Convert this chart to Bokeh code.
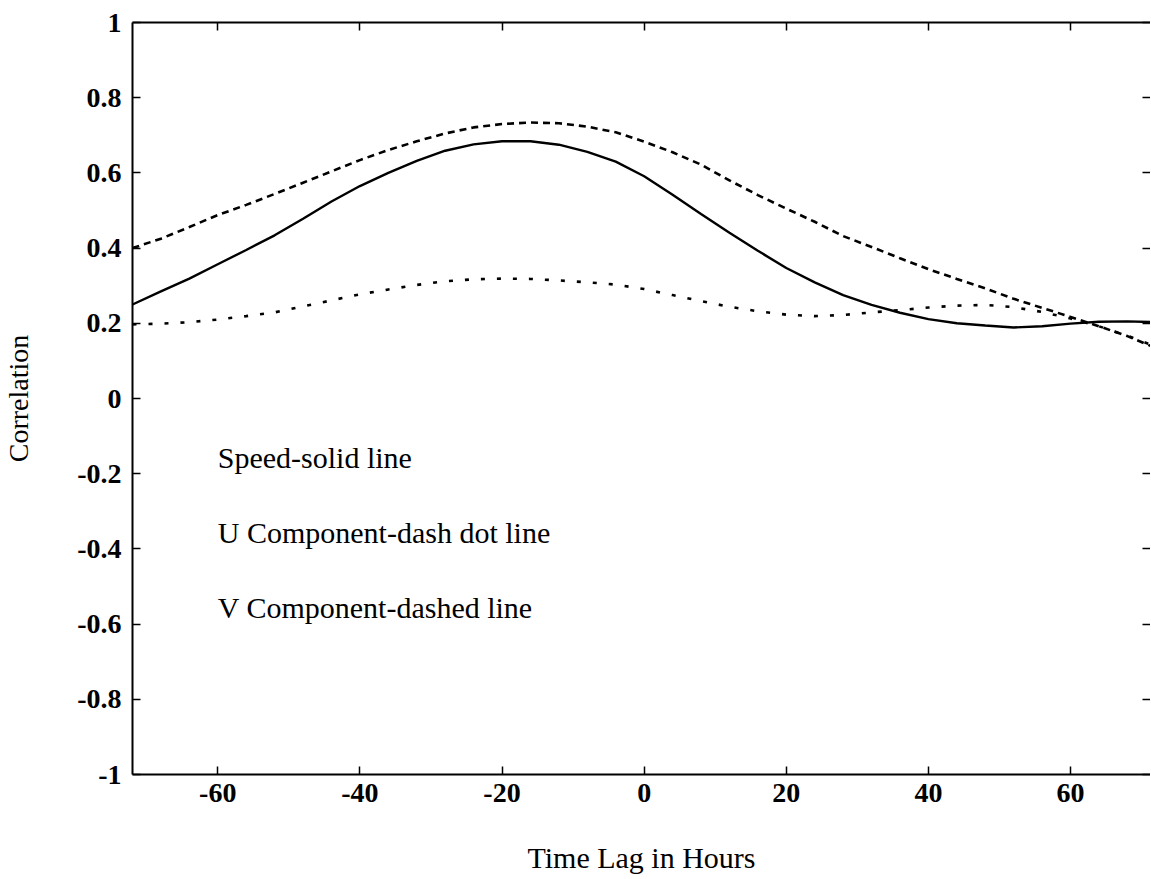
from bokeh.plotting import figure
from bokeh.models import Range1d, FixedTicker, LinearAxis
from bokeh.core.properties import value
from bokeh.embed import file_html
from bokeh.resources import INLINE

# ---- data ----
lag_hours = [-72, -68, -64, -60, -56, -52, -48, -44, -40, -36, -32, -28, -24, -20, -16, -12, -8, -4,
             0, 4, 8, 12, 16, 20, 24, 28, 32, 36, 40, 44, 48, 52, 56, 60, 64, 68, 72]

speed_corr = [0.250, 0.285, 0.319, 0.357, 0.395, 0.434, 0.478, 0.524, 0.565, 0.600, 0.632, 0.659,
              0.676, 0.684, 0.684, 0.675, 0.656, 0.630, 0.591, 0.542, 0.491, 0.441, 0.393, 0.347,
              0.309, 0.275, 0.249, 0.228, 0.211, 0.200, 0.194, 0.189, 0.192, 0.199, 0.204, 0.205, 0.203]

v_comp_corr = [0.400, 0.425, 0.456, 0.488, 0.515, 0.544, 0.574, 0.604, 0.634, 0.661, 0.684, 0.705,
               0.721, 0.730, 0.734, 0.732, 0.723, 0.708, 0.683, 0.655, 0.622, 0.580, 0.541, 0.505,
               0.470, 0.432, 0.403, 0.373, 0.344, 0.318, 0.293, 0.265, 0.241, 0.217, 0.192, 0.166, 0.134]

u_comp_corr = [0.197, 0.199, 0.203, 0.210, 0.219, 0.229, 0.245, 0.261, 0.277, 0.290, 0.302, 0.312,
               0.317, 0.319, 0.318, 0.314, 0.309, 0.303, 0.291, 0.275, 0.259, 0.244, 0.232, 0.223,
               0.219, 0.222, 0.229, 0.235, 0.242, 0.247, 0.249, 0.243, 0.230, 0.213, 0.192, 0.167, 0.138]

x_ticks = [-60, -40, -20, 0, 20, 40, 60]
x_tick_labels = ["-60", "-40", "-20", "0", "20", "40", "60"]
y_ticks = [-1, -0.8, -0.6, -0.4, -0.2, 0, 0.2, 0.4, 0.6, 0.8, 1]
y_tick_labels = ["-1", "-0.8", "-0.6", "-0.4", "-0.2", "0", "0.2", "0.4", "0.6", "0.8", "1"]

note_texts = ["Speed-solid line", "U Component-dash dot line", "V Component-dashed line"]
note_x = [-60, -60, -60]
note_y = [-0.157, -0.357, -0.557]

x_title = "Time Lag in Hours"
y_title = "Correlation"

FONT = "Liberation Serif"

p = figure(width=1150, height=878, output_backend="svg", toolbar_location=None,
           x_range=Range1d(-72, 71.25), y_range=Range1d(-1, 1),
           min_border_left=128, min_border_right=0, min_border_top=22, min_border_bottom=104,
           x_axis_label=x_title, y_axis_label=y_title)
p.outline_line_color = None
p.grid.visible = False
p.background_fill_color = "white"
p.border_fill_color = "white"

# main axes
for ax in (p.xaxis[0], p.yaxis[0]):
    ax.major_tick_in = 8
    ax.major_tick_out = 0
    ax.minor_tick_in = 0
    ax.minor_tick_out = 0
    ax.axis_line_width = 2
    ax.major_tick_line_width = 1.5
    ax.axis_line_color = "black"
    ax.major_label_text_font = FONT
    ax.major_label_text_font_style = "bold"
    ax.major_label_text_font_size = "28px"
    ax.major_label_text_color = "black"
    ax.axis_label_text_font = FONT
    ax.axis_label_text_font_style = "normal"
    ax.axis_label_text_color = "black"

xa = p.xaxis[0]
xa.ticker = FixedTicker(ticks=x_ticks)
xa.major_label_overrides = dict(zip(x_ticks, x_tick_labels))
xa.major_label_standoff = 9
xa.axis_label_standoff = 36
xa.axis_label_text_font_size = "30px"

ya = p.yaxis[0]
ya.ticker = FixedTicker(ticks=y_ticks)
ya.major_label_overrides = dict(zip(y_ticks, y_tick_labels))
ya.major_label_standoff = 11
ya.axis_label_standoff = 40
ya.axis_label_text_font_size = "28px"

# top and right axes: inward ticks only, no labels painted
top_ax = LinearAxis(ticker=FixedTicker(ticks=x_ticks), major_tick_in=8, major_tick_out=0,
                    minor_tick_in=0, minor_tick_out=0, major_label_text_font_size="1px",
                    major_label_text_color=None, major_label_standoff=0,
                    axis_line_width=2, major_tick_line_width=1.5)
right_ax = LinearAxis(ticker=FixedTicker(ticks=y_ticks), major_tick_in=8, major_tick_out=0,
                      minor_tick_in=0, minor_tick_out=0, major_label_text_font_size="1px",
                      major_label_text_color=None, major_label_standoff=0,
                      axis_line_alpha=0, major_tick_line_width=1.5)
p.add_layout(top_ax, "above")
p.add_layout(right_ax, "right")

# curves
p.line(lag_hours, speed_corr, line_color="black", line_width=2.4)
p.line(lag_hours, v_comp_corr, line_color="black", line_width=2.6, line_dash="7 5")
p.line(lag_hours, u_comp_corr, line_color="black", line_width=2.6, line_dash="4 12")

# annotation texts
p.text(x=note_x, y=note_y, text=note_texts, text_font=value(FONT), text_font_size="30px",
       text_color="black", text_align="left", text_baseline="alphabetic")

open("out.html", "w").write(file_html(p, INLINE))
